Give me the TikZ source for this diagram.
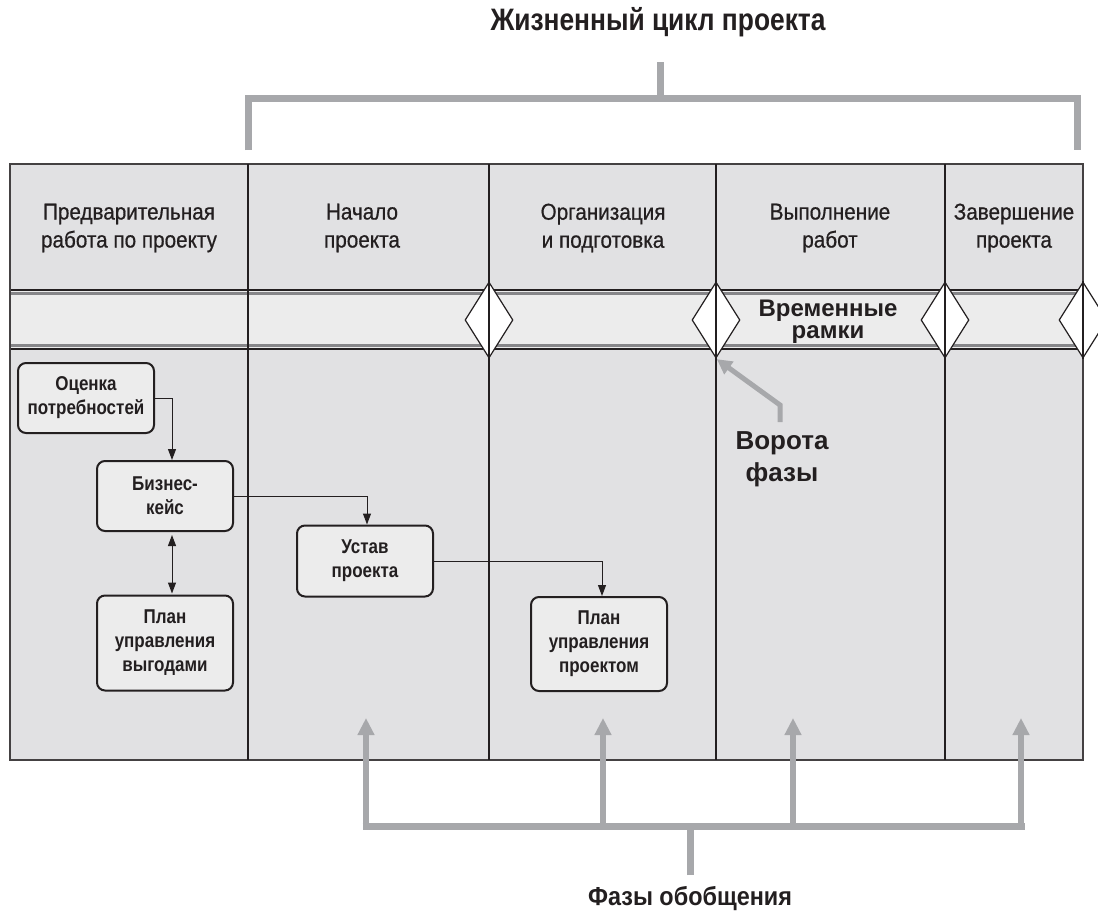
\documentclass[tikz,border=0pt]{standalone}
\usepackage{fontspec}
\setmainfont{Liberation Sans}
\newfontfamily\phasefont{Liberation Sans}[FakeStretch=0.9]
\newfontfamily\medfont{Liberation Sans}[FakeStretch=0.9,FakeBold=0.6]
\newfontfamily\condfont{Liberation Sans}[FakeStretch=0.85]
\usetikzlibrary{arrows.meta,positioning,shapes.geometric}
\definecolor{panel}{HTML}{E1E1E3}
\definecolor{band}{HTML}{ECECEC}
\definecolor{bracket}{HTML}{A7A8AB}
\definecolor{ink}{HTML}{231F20}
\begin{document}
\begin{tikzpicture}[x=1pt,y=-1pt,
    phase/.style={align=center, text=ink, font=\medfont\fontsize{23}{28}\selectfont},
    docbox/.style={draw=ink, line width=2pt, rounded corners=8pt, fill=band,
      align=center, minimum width=136pt, inner sep=0pt, text=ink,
      font=\condfont\bfseries\fontsize{20}{24}\selectfont},
    flow/.style={draw=ink, line width=1pt, -{Triangle[width=8pt,length=11pt]}},
    twoway/.style={draw=ink, line width=1pt, {Triangle[width=8pt,length=11pt]}-{Triangle[width=8pt,length=11pt]}},
    brace/.style={draw=bracket, line width=7pt},
    pointer/.style={draw=bracket, line width=6pt, -{Triangle[width=16pt,length=17pt]}},
    gate/.style={diamond, draw=ink, fill=white, line width=1.2pt, inner sep=0pt,
      minimum width=48pt, minimum height=76pt},
    heading/.style={text=ink, align=center}]

  \useasboundingbox (0,0) rectangle (1098,918);
  \fill[white] (0,0) rectangle (1098,918);

  % table of phases
  \fill[panel] (10,164) rectangle (1083,760);
  \fill[band] (10,290) rectangle (1083,349);
  \draw[bracket!80!black, line width=3pt] (10,293.5) -- (1083,293.5);
  \draw[bracket!80!black, line width=3pt] (10,345.5) -- (1083,345.5);
  \draw[ink, line width=1.2pt] (10,290) -- (1083,290);
  \draw[ink, line width=1.2pt] (10,349) -- (1083,349);
  \draw[ink!85, line width=1.2pt] (10,164) rectangle (1083,760);
  \foreach \x in {248,489,716,945}
    \draw[ink, line width=1.2pt] (\x,164) -- (\x,760);

  \node[phase] (ph1) at (129,228) {Предварительная\\работа по проекту};
  \node[phase] (ph2) at (362,228) {Начало\\проекта};
  \node[phase] (ph3) at (603,228) {Организация\\и подготовка};
  \node[phase] (ph4) at (830,228) {Выполнение\\работ};
  \node[phase] (ph5) at (1014,228) {Завершение\\проекта};

  % phase gates
  \foreach \x/\n in {489/g1,716/g2,945/g3,1083/g4} {
    \node[gate] (\n) at (\x,320) {};
    \draw[ink, line width=1.2pt] (\n.north) -- (\n.south);
  }
  \node[heading, font=\bfseries\fontsize{24}{22}\selectfont] (frames) at (828,322) {Временные\\рамки};

  \node[heading, font=\bfseries\fontsize{26}{32}\selectfont] (gatelbl) at (782,459) {Ворота\\фазы};
  \coordinate (gatefoot) at (780,422);
  \draw[bracket, line width=5pt, -{Triangle[width=15pt,length=15pt]}, shorten >=1pt]
    (gatefoot) -- (780,405) -- (g2.south);

  % documents
  \node[docbox, minimum height=70pt] (needs) at (86,398) {Оценка\\потребностей};
  \node[docbox, minimum height=70pt] (bcase) at (165,496) {Бизнес-\\кейс};
  \node[docbox, minimum height=95pt] (benefit) at (165,643) {План\\управления\\выгодами};
  \node[docbox, minimum height=71pt] (charter) at (365,561) {Устав\\проекта};
  \node[docbox, minimum height=94pt] (pmplan) at (599,644) {План\\управления\\проектом};

  \draw[flow] (needs.east) -| ([xshift=7pt]bcase.north);
  \draw[twoway, shorten <=3pt, shorten >=1pt] ([xshift=7pt]bcase.south) -- ([xshift=7pt]benefit.north);
  \draw[flow] (bcase.east) -| ([xshift=2pt]charter.north);
  \draw[flow] (charter.east) -| ([xshift=3pt]pmplan.north);

  % project life cycle
  \node[heading, font=\condfont\bfseries\fontsize{31}{34}\selectfont] (cycle) at (658,22) {Жизненный цикл проекта};
  \coordinate (cyclestem) at (660,62);
  \draw[brace] (248,150) -- (248,98) -- (1077,98) -- (1077,150);
  \draw[brace] (cyclestem) -- (660,98);

  % summary phases
  \node[heading, font=\phasefont\bfseries\fontsize{26}{30}\selectfont] (summary) at (690,899) {Фазы обобщения};
  \coordinate (summarystem) at (690,875);
  \draw[brace] (362.5,826) -- (1024.5,826);
  \draw[brace] (summarystem) -- (690,826);
  \foreach \x in {366,603,793,1021}
    \draw[pointer] (\x,829) -- (\x,718);
\end{tikzpicture}
\end{document}
